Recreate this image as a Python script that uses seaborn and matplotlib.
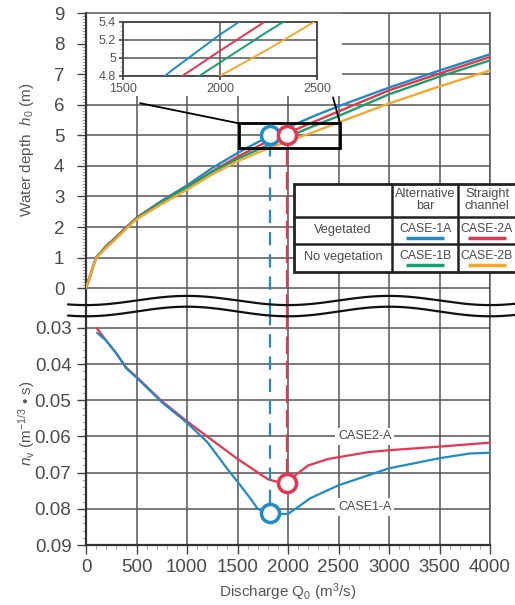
import numpy as np
import matplotlib
matplotlib.use("Agg")
import matplotlib.pyplot as plt
import seaborn as sns
from matplotlib.ticker import MultipleLocator, FixedLocator
from matplotlib.patches import Rectangle

sns.set_theme(style="white")
plt.rcParams["font.family"] = ["Liberation Sans", "DejaVu Sans"]
plt.rcParams["mathtext.fontset"] = "custom"
plt.rcParams["mathtext.rm"] = "Liberation Sans"
plt.rcParams["mathtext.it"] = "Liberation Sans:italic"

# water depth h0 (m) against discharge Q0 (m3/s)
q_h = [0, 100, 200, 300, 400, 500, 750, 1000, 1250, 1500, 1750, 2000, 2250, 2500, 3000, 3500, 4000]
h_1a = [0, 1.0, 1.35, 1.65, 1.98, 2.3, 2.86, 3.36, 3.93, 4.42, 4.86, 5.26, 5.62, 5.95, 6.56, 7.12, 7.65]
h_2a = [0, 1.0, 1.38, 1.68, 2.0, 2.3, 2.83, 3.31, 3.82, 4.3, 4.72, 5.08, 5.43, 5.78, 6.47, 7.02, 7.56]
h_1b = [0, 1.0, 1.35, 1.65, 1.98, 2.28, 2.82, 3.3, 3.8, 4.23, 4.6, 4.95, 5.3, 5.63, 6.34, 6.92, 7.45]
h_2b = [0, 0.98, 1.32, 1.62, 1.95, 2.25, 2.75, 3.22, 3.72, 4.15, 4.5, 4.8, 5.1, 5.42, 6.04, 6.6, 7.12]

# vegetation roughness n_v
q_n1 = [110, 200, 300, 400, 500, 750, 1000, 1200, 1400, 1500, 1624, 1700, 1822, 2000, 2100, 2218, 2500, 3000, 3500, 3800, 4000]
n_1a = [0.0313, 0.0335, 0.037, 0.0412, 0.0437, 0.0505, 0.0562, 0.0615, 0.069, 0.0725, 0.077, 0.080, 0.0815,
        0.0814, 0.0795, 0.0771, 0.0735, 0.0688, 0.066, 0.0647, 0.0645]
q_n2 = [106, 200, 300, 400, 500, 750, 1000, 1200, 1500, 1624, 1800, 1950, 2050, 2200, 2400, 2800, 3000, 3500, 4000]
n_2a = [0.030, 0.0335, 0.037, 0.041, 0.0435, 0.0502, 0.0558, 0.060, 0.0662, 0.0685, 0.0718, 0.073, 0.0712,
        0.068, 0.0662, 0.0643, 0.0638, 0.0628, 0.0617]

# highlighted points
mark_q = [1822, 1993]
mark_h = [5.0, 5.0]
mark_n = [0.0812, 0.0728]

blue, red, green, orange = "#1f8bc9", "#e8354f", "#17a06c", "#f4a82e"
grid_c = "#555555"
text_c = "#4a4a4a"

W, H = 515, 605
fig = plt.figure(figsize=(W / 100, H / 100), dpi=100)


def px_axes(l, t, r, b):
    return fig.add_axes([l / W, 1 - b / H, (r - l) / W, (b - t) / H])


ax_top = px_axes(86, 13, 490, 312)
ax_bot = px_axes(86, 312, 490, 545)
top_lo = -0.78
bot_hi = 0.02558

# ---- upper panel
for y, c in [(h_1a, blue), (h_2a, red), (h_1b, green), (h_2b, orange)]:
    sns.lineplot(x=q_h, y=y, ax=ax_top, color=c, lw=1.7, zorder=3)
ax_top.set_xlim(0, 4000)
ax_top.set_ylim(top_lo, 9)
ax_top.xaxis.set_major_locator(MultipleLocator(500))
ax_top.set_yticks(range(0, 10))
ax_top.yaxis.set_minor_locator(FixedLocator(np.arange(0, 9.01, 0.1)))
ax_top.grid(True, which="major", color=grid_c, lw=1.1)
ax_top.tick_params(axis="x", bottom=False, labelbottom=False)
ax_top.tick_params(axis="y", which="major", left=True, length=6.5, width=1, color="#444",
                   labelsize=13.5, labelcolor=text_c, pad=9)
ax_top.tick_params(axis="y", which="minor", left=True, length=3, width=0.6, color="#999")
ax_top.spines["bottom"].set_visible(False)
for s in ["top", "right"]:
    ax_top.spines[s].set_color(grid_c)
    ax_top.spines[s].set_linewidth(1.1)
ax_top.spines["left"].set_color("#333")
ax_top.spines["left"].set_linewidth(1.6)

# blank area behind the inset
ax_top.add_patch(Rectangle((0, 6.3), 2530, 2.7, fc="white", ec="none", zorder=1))
# zoom box and connectors
ax_top.add_patch(Rectangle((1515, 4.58), 1000, 0.81, fill=False, ec="black", lw=2, zorder=5))
ax_top.plot([535, 1515], [6.05, 5.39], color="black", lw=1.3, zorder=5)
ax_top.plot([2446, 2515], [6.24, 5.39], color="black", lw=1.3, zorder=5)

# ---- lower panel
sns.lineplot(x=q_n2, y=n_2a, ax=ax_bot, color=red, lw=1.6, zorder=3)
sns.lineplot(x=q_n1, y=n_1a, ax=ax_bot, color=blue, lw=1.6, zorder=3)
ax_bot.set_xlim(0, 4000)
ax_bot.set_ylim(0.09, bot_hi)
ax_bot.xaxis.set_major_locator(MultipleLocator(500))
ax_bot.xaxis.set_minor_locator(MultipleLocator(100))
ax_bot.set_yticks([0.03, 0.04, 0.05, 0.06, 0.07, 0.08, 0.09])
ax_bot.set_yticklabels(["0.03", "0.04", "0.05", "0.06", "0.07", "0.08", "0.09"])
ax_bot.yaxis.set_minor_locator(FixedLocator(np.arange(0.03, 0.0901, 0.002)))
ax_bot.grid(True, which="major", color=grid_c, lw=1.1)
ax_bot.tick_params(axis="both", which="major", length=6.5, width=1, color="#444",
                   labelsize=13.5, labelcolor=text_c, left=True, bottom=True)
ax_bot.tick_params(axis="y", which="major", pad=4)
ax_bot.tick_params(axis="x", which="major", pad=3.5)
ax_bot.tick_params(axis="both", which="minor", length=3, width=0.6, color="#999", left=True, bottom=True)
ax_bot.spines["top"].set_visible(False)
ax_bot.spines["right"].set_color(grid_c)
ax_bot.spines["right"].set_linewidth(1.1)
for s in ["left", "bottom"]:
    ax_bot.spines[s].set_color("#333")
    ax_bot.spines[s].set_linewidth(1.6)
ax_bot.set_xlabel("")
ax_bot.set_ylabel("")
ax_top.set_ylabel("")

ax_bot.text(2760, 0.060, "CASE2-A", ha="center", va="center", fontsize=9, color=text_c,
            bbox=dict(fc="white", ec="none", pad=2), zorder=4)
ax_bot.text(2760, 0.0795, "CASE1-A", ha="center", va="center", fontsize=9, color=text_c,
            bbox=dict(fc="white", ec="none", pad=2), zorder=4)

# dashed guides and circles
for q, h, n, c, ds in zip(mark_q, mark_h, mark_n, [blue, red], [(0, (6, 4)), (0, (8, 3))]):
    ax_top.vlines(q, top_lo, h, color=c, lw=1.6, linestyles=[ds], zorder=4)
    ax_bot.vlines(q, bot_hi, n, color=c, lw=1.6, linestyles=[ds], zorder=4)
    ax_top.plot(q, h, marker="o", ms=13, mfc="white", mec=c, mew=2.5, zorder=6)
    ax_bot.plot(q, n, marker="o", ms=13, mfc="white", mec=c, mew=2.5, zorder=6)

# ---- inset
ax_in = px_axes(123, 22, 317, 76)
ax_in.set_zorder(3)
for y, c in [(h_1a, blue), (h_2a, red), (h_1b, green), (h_2b, orange)]:
    sns.lineplot(x=q_h, y=y, ax=ax_in, color=c, lw=1.4, zorder=3)
ax_in.set_xlim(1500, 2500)
ax_in.set_ylim(4.8, 5.4)
ax_in.set_xticks([1500, 2000, 2500])
ax_in.set_yticks([4.8, 5.0, 5.2, 5.4])
ax_in.set_yticklabels(["4.8", "5", "5.2", "5.4"])
ax_in.yaxis.set_minor_locator(MultipleLocator(0.05))
ax_in.grid(True, which="major", color=grid_c, lw=1.1)
ax_in.tick_params(axis="both", which="major", labelsize=9, labelcolor="#555", length=3,
                  color="#444", left=True, bottom=True, pad=2)
ax_in.tick_params(axis="y", which="minor", length=2, width=0.5, color="#999", left=True)
for s in ax_in.spines.values():
    s.set_color("#444")
    s.set_linewidth(1.3)
ax_in.set_xlabel("")
ax_in.set_ylabel("")

# ---- decoration layer in pixel units
ax_d = fig.add_axes([0, 0, 1, 1])
ax_d.set_zorder(10)
ax_d.set_xlim(0, W)
ax_d.set_ylim(H, 0)
ax_d.axis("off")

xw = np.linspace(68, 515, 300)
ph = (xw - 187) / 101 * np.pi
ax_d.plot(xw, 300.5 - 4.6 * np.cos(ph), color="#111", lw=1.6)
ax_d.plot(xw, 311.5 - 4.8 * np.cos(ph), color="#111", lw=1.6)

# legend table
ax_d.add_patch(Rectangle((294, 184), 250, 88, fc="white", ec="#222", lw=2, zorder=2))
for xv in [392, 458]:
    ax_d.plot([xv, xv], [184, 272], color="#222", lw=1.8, zorder=3)
for yv in [217, 244]:
    ax_d.plot([294, 544], [yv, yv], color="#222", lw=1.8, zorder=3)
fs = 9.2
ax_d.text(425, 200, "Alternative\nbar", ha="center", va="center", fontsize=fs, color=text_c,
          linespacing=1.0, zorder=4)
ax_d.text(487, 200, "Straight\nchannel", ha="center", va="center", fontsize=fs, color=text_c,
          linespacing=1.0, zorder=4)
ax_d.text(343, 230, "Vegetated", ha="center", va="center", fontsize=fs, color=text_c, zorder=4)
ax_d.text(343, 257, "No vegetation", ha="center", va="center", fontsize=fs, color=text_c, zorder=4)
for label, xc, yc, c in [("CASE-1A", 425, 229, blue), ("CASE-2A", 486.5, 229, red),
                         ("CASE-1B", 425, 256, green), ("CASE-2B", 486.5, 256, orange)]:
    ax_d.text(xc, yc, label, ha="center", va="center", fontsize=8.8, color=text_c, zorder=4)
    ax_d.plot([xc - 19, xc + 19], [yc + 9, yc + 9], color=c, lw=2.5, zorder=4,
              solid_capstyle="butt")

# axis titles
ax_d.text(27, 150, "Water depth  $h_0$ (m)", rotation=90, ha="center", va="center",
          fontsize=11, color="#555")
ax_d.text(27, 423, "$n_\\mathrm{v}$ (m$^{-1/3}$ • s)", rotation=90, ha="center", va="center",
          fontsize=11, color="#555")
ax_d.text(288, 592, "Discharge $\\mathrm{Q}_0$ (m$^3$/s)", ha="center", va="center",
          fontsize=11, color="#555")

fig.savefig("out.png", dpi=100)
